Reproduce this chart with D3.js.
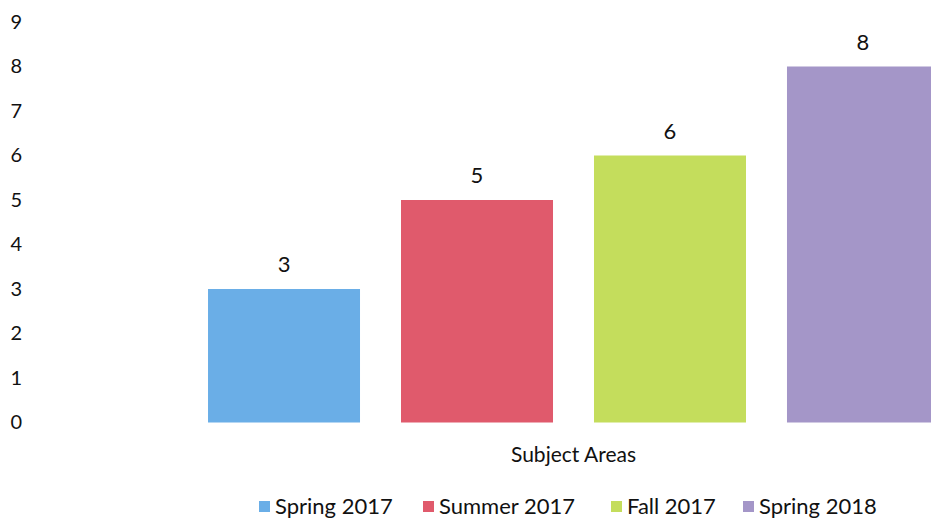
<!DOCTYPE html>
<html>
<head>
<meta charset="utf-8">
<script src="https://cdn.jsdelivr.net/npm/d3@7"></script>
<style>
  html, body { margin: 0; padding: 0; background: #fff; overflow: hidden; }
  svg text { font-family: Lato, "Open Sans", sans-serif; fill: #111; }
</style>
</head>
<body>
<script>
/* Data */
var category = "Subject Areas",
	seriesNames = ["Spring 2017", "Summer 2017", "Fall 2017", "Spring 2018"],
	seriesValues = [3, 5, 6, 8],
	seriesColors = ["#6aaee7", "#e05a6c", "#c4dd5c", "#a496c8"],
	yTicks = [0, 1, 2, 3, 4, 5, 6, 7, 8, 9];

/* Display setup */
var width = 931, height = 520,
	plot = {left: 60, right: 1087, top: 22, bottom: 422.5},
	svg = d3.select("body").append("svg")
		.attr("width", width)
		.attr("height", height);

var y = d3.scaleLinear().domain([0, 9]).range([plot.bottom, plot.top]);

// one category, four series side by side (Excel style clustered bars)
var x0 = d3.scaleBand().domain([category]).range([plot.left, plot.right])
	.paddingInner(0).paddingOuter(0.2025);
var x1 = d3.scaleBand().domain(seriesNames).range([0, x0.bandwidth()])
	.paddingInner(0.2124).paddingOuter(0);
var color = d3.scaleOrdinal().domain(seriesNames).range(seriesColors);

/* Y axis: labels only, no line */
var yAxis = svg.append("g")
	.attr("transform", "translate(22,0)")
	.call(d3.axisLeft(y).tickValues(yTicks).tickSize(0).tickPadding(0));
yAxis.select(".domain").remove();
yAxis.selectAll("text")
	.style("font-size", "20px")
	.style("font-family", "Lato, 'Open Sans', sans-serif")
	.attr("fill", "#111");

/* Bars */
var bars = svg.append("g")
	.attr("transform", "translate(" + x0(category) + ",0)");

var data = seriesNames.map(function(d, i) { return {name: d, value: seriesValues[i]}; });

bars.selectAll("rect")
	.data(data)
	.enter().append("rect")
		.attr("x", function(d) { return x1(d.name); })
		.attr("y", function(d) { return y(d.value); })
		.attr("width", x1.bandwidth())
		.attr("height", function(d) { return y(0) - y(d.value); })
		.style("fill", function(d) { return color(d.name); });

bars.selectAll("text.value")
	.data(data)
	.enter().append("text")
		.attr("class", "value")
		.attr("x", function(d) { return x1(d.name) + x1.bandwidth() / 2; })
		.attr("y", function(d) { return y(d.value) - 17; })
		.attr("text-anchor", "middle")
		.style("font-size", "22px")
		.text(function(d) { return d.value; });

/* Category label */
svg.append("text")
	.attr("x", x0(category) + x0.bandwidth() / 2)
	.attr("y", 462)
	.attr("text-anchor", "middle")
	.style("font-size", "21px")
	.text(category);

/* Legend */
var legendX = [259, 423, 611, 743];
var legend = svg.append("g").selectAll("g")
	.data(seriesNames)
	.enter().append("g")
		.attr("transform", function(d, i) { return "translate(" + legendX[i] + ",501)"; });

legend.append("rect")
	.attr("width", 11)
	.attr("height", 11)
	.style("fill", function(d) { return color(d); });

legend.append("text")
	.attr("x", 16)
	.attr("y", 13)
	.style("font-size", "22px")
	.text(function(d) { return d; });
</script>
</body>
</html>
